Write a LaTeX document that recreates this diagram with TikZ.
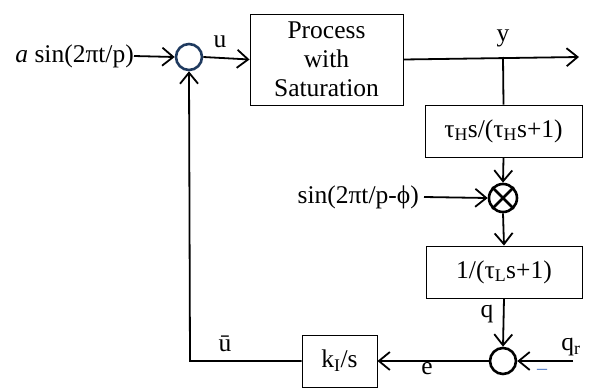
\documentclass[tikz,border=0pt]{standalone}
\usepackage{fontspec}
\setmainfont{Liberation Serif}
\usetikzlibrary{arrows.meta}
\definecolor{sumblue}{HTML}{1F3A5F}
\definecolor{minusblue}{HTML}{4472C4}
\begin{document}
\begin{tikzpicture}[x=1pt,y=-1pt,
  font=\fontsize{25.5}{29}\selectfont,
  conn/.style={line width=1.8pt,-{Straight Barb[length=11pt,width=18pt,line width=1.8pt]}},
  wire/.style={line width=1.8pt},
  blk/.style={draw,line width=0.9pt,rectangle,inner sep=0pt,align=center},
  sumnode/.style={draw,circle,line width=2.6pt,minimum size=26pt,inner sep=0pt},
  lbl/.style={inner sep=0pt,anchor=center}]
\useasboundingbox (0,0) rectangle (589,389);
% nodes
\node[lbl,anchor=east] (in) at (134,56) {\textit{a} sin(2πt/p)};
\node[sumnode,draw=sumblue] (s1) at (189,57) {};
\node[blk,minimum width=153pt,minimum height=91pt] (proc) at (326.5,59.5) {Process\\with\\Saturation};
\coordinate (out) at (579,57);
\coordinate (br) at (503,57);
\node[blk,minimum width=157pt,minimum height=52pt] (hp) at (503.5,131) {τ\textsubscript{H}s/(τ\textsubscript{H}s+1)};
\node[sumnode,minimum size=28pt] (mx) at (503,198) {};
\draw[line width=2.6pt] (mx.45) -- (mx.225) (mx.135) -- (mx.315);
\node[lbl,anchor=east] (sn) at (419,197) {sin(2πt/p-ϕ)};
\node[blk,minimum width=156pt,minimum height=52pt] (lp) at (504,272) {1/(τ\textsubscript{L}s+1)};
\node[sumnode] (s2) at (503,361) {};
\coordinate (qr) at (573,361);
\node[blk,minimum width=75pt,minimum height=52pt] (ki) at (339.5,361) {k\textsubscript{I}/s};
\coordinate (fb) at (190,361);
% labels
\node[lbl] (lu) at (220,42) {u};
\node[lbl] (ly) at (503,38) {y};
\node[lbl] (lq) at (487,314) {q};
\node[lbl] (lqr) at (571,347) {q\textsubscript{r}};
\node[lbl] (le) at (427,369) {e};
\node[lbl] (lub) at (225,344) {ū};
\node[lbl,text=minusblue,font=\fontsize{20}{20}\selectfont] (lm) at (542,372) {–};
% connectors
\draw[conn] (in.east) -- (s1.west);
\draw[conn] (s1.east) -- (proc.west);
\draw[conn] (proc.east) -- (out);
\draw[wire] (br) -- (hp.north);
\draw[conn] (hp.south) -- (mx.north);
\draw[conn] ([xshift=5pt]sn.east) -- (mx.west);
\draw[conn] (mx.south) -- (lp.north);
\draw[conn] (lp.south) -- (s2.north);
\draw[conn] (qr) -- (s2.east);
\draw[conn] (s2.west) -- (ki.east);
\draw[conn] (ki.west) -- (fb) -- (s1.south);
\end{tikzpicture}
\end{document}
